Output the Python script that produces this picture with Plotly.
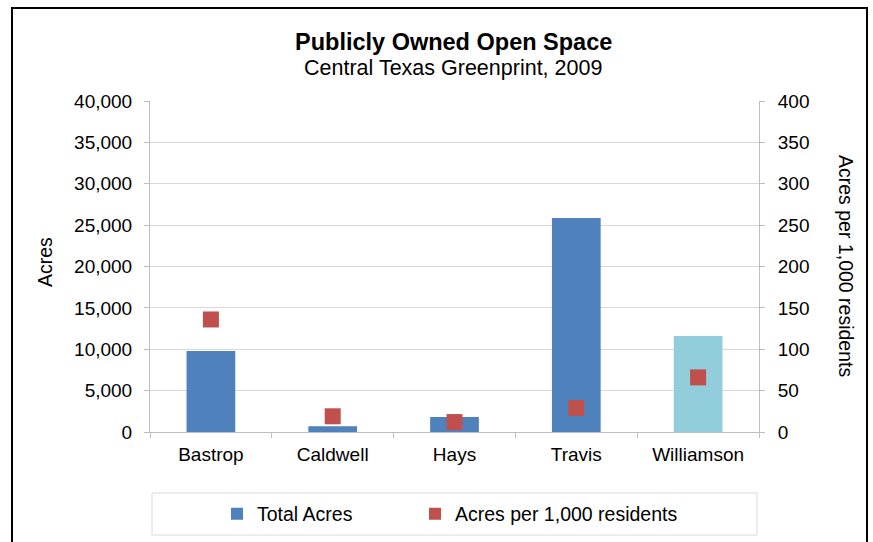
import plotly.graph_objects as go

counties = ["Bastrop", "Caldwell", "Hays", "Travis", "Williamson"]
total_acres = [9800, 700, 1800, 25850, 11600]
acres_per_1000 = [136, 19, 12, 29, 66]
bar_colors = ["#4F81BD", "#4F81BD", "#4F81BD", "#4F81BD", "#92CDDC"]
left_ticks = [0, 5000, 10000, 15000, 20000, 25000, 30000, 35000, 40000]
right_ticks = [0, 50, 100, 150, 200, 250, 300, 350, 400]

FONT = "Liberation Sans, Arial, sans-serif"
W, H = 873, 542
l, r, t, b = 150, 114, 101, 110
pw, ph = W - l - r, H - t - b

fig = go.Figure()
fig.add_trace(go.Bar(
    x=counties, y=total_acres, name="Total Acres",
    marker=dict(color=bar_colors, line=dict(width=0)),
    width=0.4, yaxis="y", legend="legend",
))
fig.add_trace(go.Scatter(
    x=counties, y=acres_per_1000, name="Acres per 1,000 residents",
    mode="markers", marker=dict(symbol="square", size=16, color="#C0504D"),
    yaxis="y2", legend="legend2",
))

axis_common = dict(showline=True, linecolor="#BFBFBF", linewidth=1, ticks="outside",
                   ticklen=5, tickcolor="#BFBFBF", tickfont=dict(size=19), automargin=False)

leg_common = dict(orientation="h", xref="container", yref="container", xanchor="left",
                  y=(H - 514) / H, yanchor="middle", font=dict(size=19.5),
                  bgcolor="rgba(0,0,0,0)", itemwidth=30, itemsizing="constant")

fig.update_layout(
    width=W, height=H,
    margin=dict(l=l, r=r, t=t, b=b, autoexpand=False),
    paper_bgcolor="white", plot_bgcolor="white",
    font=dict(family=FONT, size=19, color="black"),
    showlegend=True,
    legend=dict(**leg_common, x=217 / W),
    legend2=dict(**leg_common, x=415 / W),
    xaxis=dict(**axis_common, tickson="boundaries", showgrid=False, ticklabelstandoff=5),
    yaxis=dict(**axis_common, range=[0, 40000], tickvals=left_ticks, tickformat=",d",
               showgrid=True, gridcolor="#D9D9D9", gridwidth=1, zeroline=False,
               ticklabelstandoff=8),
    yaxis2=dict(**axis_common, range=[0, 400], tickvals=right_ticks, overlaying="y",
                side="right", showgrid=False, zeroline=False, ticklabelstandoff=9),
    bargap=0.6,
)

def ann(text, x, y, size, angle=0):
    return dict(text=text, xref="paper", yref="paper",
                x=(x - l) / pw, y=(H - b - y) / ph, xanchor="center", yanchor="middle",
                textangle=angle, showarrow=False, font=dict(size=size))

fig.update_layout(annotations=[
    ann("<b>Publicly Owned Open Space</b>", 453, 42, 23.5),
    ann("Central Texas Greenprint, 2009", 453, 68, 21.5),
    ann("Acres", 45, 262, 19.5, -90),
    ann("Acres per 1,000 residents", 846, 266, 19.5, 90),
])

def px_rect(x0, y0, x1, y1, color, width):
    return dict(type="rect", xref="paper", yref="paper",
                x0=(x0 - l) / pw, x1=(x1 - l) / pw,
                y0=(H - b - y0) / ph, y1=(H - b - y1) / ph,
                line=dict(color=color, width=width), fillcolor="rgba(0,0,0,0)", layer="below")

fig.update_layout(shapes=[
    px_rect(12, 8, 867, 560, "black", 2),
    px_rect(152, 493, 757, 535, "#D9D9D9", 1),
])

fig.write_html("out.html", config={"displayModeBar": False},
               post_script="document.body.style.margin='0';document.body.style.overflow='hidden';")
